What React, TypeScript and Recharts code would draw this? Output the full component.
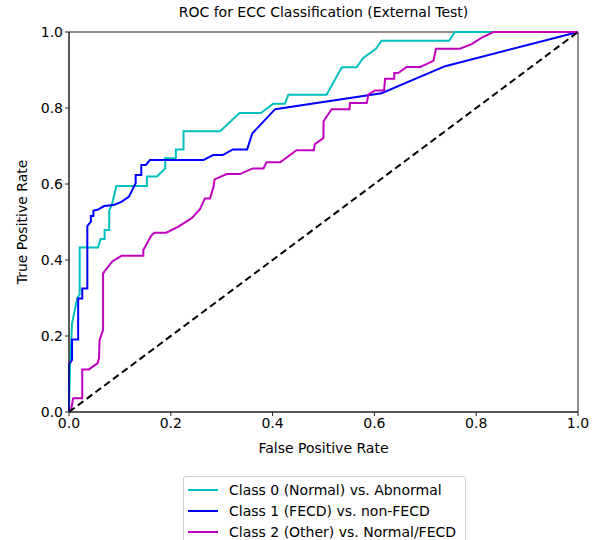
import React from 'react';
import { LineChart, Line, XAxis, YAxis, ReferenceArea } from 'recharts';

// ROC points (false positive rate / true positive rate)
const class0Fpr = [0, 0.002, 0.006, 0.016, 0.021, 0.021, 0.057, 0.062, 0.07, 0.07, 0.079, 0.079, 0.085, 0.093, 0.153, 0.153, 0.173, 0.189, 0.189, 0.21, 0.21, 0.225, 0.225, 0.297, 0.335, 0.377, 0.401, 0.424, 0.431, 0.506, 0.536, 0.565, 0.578, 0.603, 0.614, 0.747, 0.758, 1];
const class0Tpr = [0, 0.12, 0.233, 0.299, 0.31, 0.433, 0.433, 0.455, 0.455, 0.479, 0.479, 0.53, 0.549, 0.595, 0.595, 0.62, 0.62, 0.641, 0.668, 0.668, 0.691, 0.691, 0.739, 0.739, 0.787, 0.787, 0.811, 0.811, 0.835, 0.835, 0.907, 0.907, 0.932, 0.956, 0.977, 0.977, 1, 1];

const class1Fpr = [0, 0, 0.006, 0.006, 0.018, 0.018, 0.026, 0.026, 0.036, 0.036, 0.043, 0.043, 0.048, 0.048, 0.056, 0.069, 0.088, 0.103, 0.118, 0.126, 0.131, 0.131, 0.142, 0.142, 0.151, 0.159, 0.264, 0.283, 0.302, 0.322, 0.35, 0.36, 0.405, 0.614, 0.739, 1];
const class1Tpr = [0, 0.125, 0.137, 0.191, 0.191, 0.299, 0.299, 0.325, 0.325, 0.489, 0.501, 0.516, 0.516, 0.53, 0.532, 0.542, 0.545, 0.553, 0.567, 0.589, 0.602, 0.624, 0.624, 0.65, 0.65, 0.663, 0.663, 0.676, 0.676, 0.691, 0.691, 0.733, 0.797, 0.839, 0.91, 1];

const class2Fpr = [0, 0.004, 0.008, 0.026, 0.026, 0.039, 0.056, 0.059, 0.06, 0.067, 0.067, 0.072, 0.085, 0.103, 0.146, 0.146, 0.162, 0.168, 0.191, 0.215, 0.241, 0.257, 0.267, 0.277, 0.284, 0.286, 0.31, 0.336, 0.361, 0.382, 0.388, 0.415, 0.447, 0.481, 0.483, 0.5, 0.5, 0.516, 0.551, 0.552, 0.585, 0.588, 0.601, 0.619, 0.621, 0.639, 0.639, 0.647, 0.663, 0.69, 0.716, 0.721, 0.768, 0.791, 0.811, 0.834, 1];
const class2Tpr = [0, 0.005, 0.036, 0.036, 0.112, 0.112, 0.128, 0.141, 0.189, 0.216, 0.365, 0.374, 0.396, 0.411, 0.411, 0.426, 0.465, 0.472, 0.472, 0.488, 0.51, 0.533, 0.562, 0.562, 0.593, 0.612, 0.626, 0.626, 0.641, 0.641, 0.657, 0.657, 0.689, 0.689, 0.705, 0.721, 0.765, 0.797, 0.797, 0.813, 0.813, 0.835, 0.846, 0.846, 0.877, 0.877, 0.892, 0.892, 0.908, 0.908, 0.924, 0.956, 0.956, 0.968, 0.985, 1, 1];

const chanceFpr = [0, 1];
const chanceTpr = [0, 1];

const axisTicks = [0, 0.2, 0.4, 0.6, 0.8, 1.0];

const seriesNames = [
  'Class 0 (Normal) vs. Abnormal',
  'Class 1 (FECD) vs. non-FECD',
  'Class 2 (Other) vs. Normal/FECD',
];
const seriesColors = ['#00bfbf', '#0000ff', '#bf00bf'];

const toPoints = (xs: number[], ys: number[]) => xs.map((x, i) => ({ x, y: ys[i] }));

const class0 = toPoints(class0Fpr, class0Tpr);
const class1 = toPoints(class1Fpr, class1Tpr);
const class2 = toPoints(class2Fpr, class2Tpr);
const chance = toPoints(chanceFpr, chanceTpr);

const FONT = '"DejaVu Sans", sans-serif';
const TEXT_SIZE = 14;

const App: React.FC = () => {
  const tickStyle = { fontSize: TEXT_SIZE, fill: '#000', fontFamily: FONT };
  const labelStyle = { fontSize: TEXT_SIZE, fill: '#000', fontFamily: FONT };
  return (
    <div style={{ position: 'absolute', left: 0, top: 0, width: 598, height: 540, background: '#fff', fontFamily: FONT }}>
      <div style={{ position: 'absolute', left: 69, width: 509, top: 4, textAlign: 'center', fontSize: TEXT_SIZE, color: '#000' }}>
        ROC for ECC Classification (External Test)
      </div>
      <LineChart width={598} height={540} margin={{ top: 32, right: 20, bottom: 83, left: 10 }}>
        <XAxis
          type="number"
          dataKey="x"
          domain={[0, 1]}
          ticks={axisTicks}
          tickFormatter={(v: number) => v.toFixed(1)}
          tick={tickStyle}
          tickSize={4}
          height={45}
          stroke="#222"
          allowDuplicatedCategory={false}
          label={{ value: 'False Positive Rate', position: 'insideBottom', offset: 4, style: labelStyle }}
        />
        <YAxis
          type="number"
          dataKey="y"
          domain={[0, 1]}
          ticks={axisTicks}
          tickFormatter={(v: number) => v.toFixed(1)}
          tick={tickStyle}
          tickSize={4}
          width={59}
          stroke="#222"
          label={{ value: 'True Positive Rate', angle: -90, position: 'insideLeft', offset: 12, style: { ...labelStyle, textAnchor: 'middle' } }}
        />
        <ReferenceArea x1={0} x2={1} y1={0} y2={1} fill="none" stroke="#222" strokeWidth={1} ifOverflow="visible" />
        <Line data={class0} dataKey="y" type="linear" stroke={seriesColors[0]} strokeWidth={2} dot={false} isAnimationActive={false} />
        <Line data={class1} dataKey="y" type="linear" stroke={seriesColors[1]} strokeWidth={2} dot={false} isAnimationActive={false} />
        <Line data={class2} dataKey="y" type="linear" stroke={seriesColors[2]} strokeWidth={2} dot={false} isAnimationActive={false} />
        <Line data={chance} dataKey="y" type="linear" stroke="#000" strokeWidth={2} strokeDasharray="7 4" dot={false} isAnimationActive={false} />
      </LineChart>
      <div
        style={{
          position: 'absolute',
          left: 183,
          top: 476,
          width: 283,
          height: 70,
          border: '1px solid #d0d0d0',
          borderRadius: 3,
          boxSizing: 'border-box',
          padding: '2px 0 0 4px',
          fontSize: TEXT_SIZE,
          color: '#000',
        }}
      >
        {seriesNames.map((name, i) => (
          <div key={name} style={{ display: 'flex', alignItems: 'center', height: 21 }}>
            <span style={{ display: 'inline-block', width: 30, height: 2, background: seriesColors[i], marginRight: 11 }} />
            <span>{name}</span>
          </div>
        ))}
      </div>
    </div>
  );
};

export default App;
